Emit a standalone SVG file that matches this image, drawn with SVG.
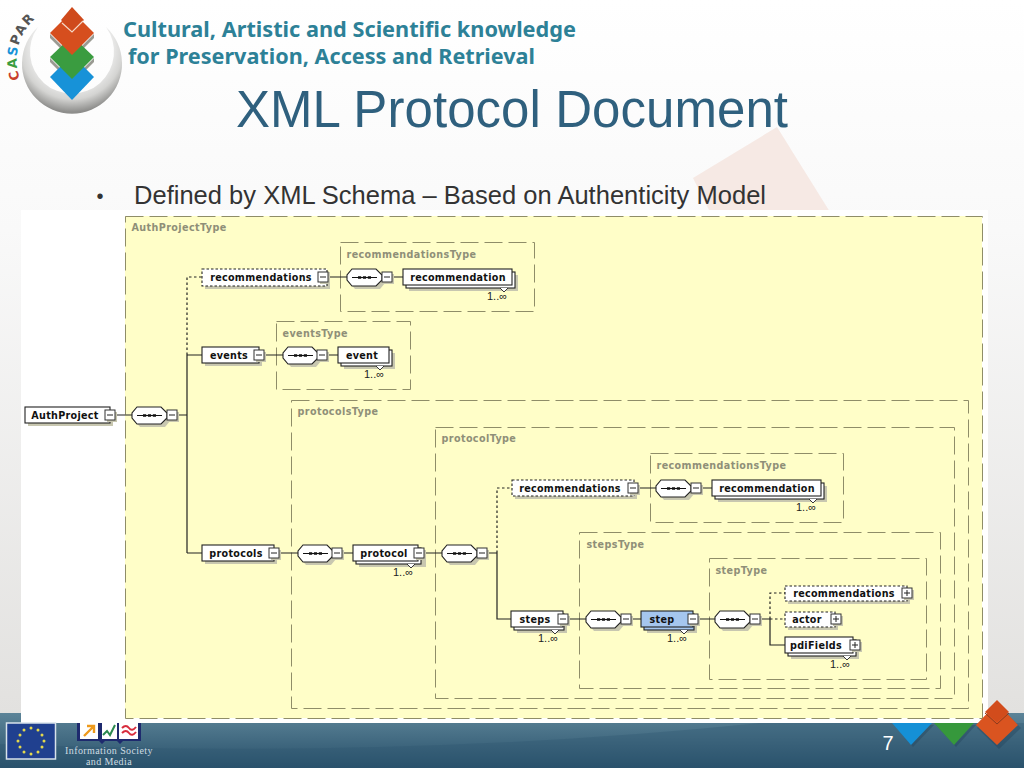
<svg xmlns="http://www.w3.org/2000/svg" width="1024" height="768" viewBox="0 0 1024 768">
<style>
text{font-family:"DejaVu Sans",Verdana,sans-serif}
.n{font-size:9.6px;font-weight:bold;fill:#111;text-anchor:middle;letter-spacing:.3px}
.t{font-size:9.6px;font-weight:bold;fill:#8f8f78;letter-spacing:.4px}
.m{font-size:11px;fill:#222;text-anchor:middle;font-family:"Liberation Sans",Arial,sans-serif}
.dash{fill:none;stroke:#8f8d68;stroke-width:1;stroke-dasharray:18 6}
.c{fill:none;stroke:#222;stroke-width:1.2}
.d{fill:none;stroke:#222;stroke-width:1.2;stroke-dasharray:2.5 2.5}
.sh{fill:#c8c7b0}
.b{fill:#fff;stroke:#222;stroke-width:1.1}
.bd{fill:#fff;stroke:#222;stroke-width:1.1;stroke-dasharray:2.5 2}
.blue{fill:#a5c6ee;stroke:#222;stroke-width:1.1}
.hd{font-family:"Noto Sans","Open Sans",sans-serif;font-weight:bold;fill:#2d8197}
.ls{font-family:"Liberation Sans",Arial,sans-serif}
.sf{font-family:"Liberation Serif",serif;fill:#cfdce2;font-size:10px;letter-spacing:.4px;text-anchor:middle}
</style>
<defs>
<linearGradient id="bg" x1="0" y1="0" x2="0" y2="1"><stop offset="0" stop-color="#fff"/><stop offset="0.3" stop-color="#f9f9f9"/><stop offset="0.93" stop-color="#e2e1df"/></linearGradient>
<linearGradient id="foot" x1="0" y1="0" x2="0" y2="1"><stop offset="0" stop-color="#5c8498"/><stop offset="1" stop-color="#28506a"/></linearGradient>
<radialGradient id="ring" gradientUnits="userSpaceOnUse" cx="72" cy="48" r="64"><stop offset="0.55" stop-color="#f4f4f4"/><stop offset="0.8" stop-color="#d4d4d2"/><stop offset="1" stop-color="#8e8e8c"/></radialGradient>
<g id="seq">
<path class="sh" d="M8,3H33L38,9V14L33,20H8L3,14V9Z"/>
<path class="b" d="M5,0H29L35,6V11L29,17H5L0,11V6Z"/>
<path d="M5,8.5H30" stroke="#111" fill="none"/>
<path d="M11,8.5H24" stroke="#111" stroke-width="2.6" stroke-dasharray="3.2 1.7" fill="none"/>
</g>
<g id="minus">
<rect class="sh" x="-3" y="-3" width="10" height="10"/>
<rect x="-5" y="-5" width="10" height="10" fill="#fff" stroke="#333"/>
<path d="M-3,0H3" stroke="#222" fill="none"/>
</g>
<g id="plus">
<rect class="sh" x="-3" y="-3" width="10" height="10"/>
<rect x="-5" y="-5" width="10" height="10" fill="#fff" stroke="#333"/>
<path d="M-3,0H3M0,-3V3" stroke="#222" fill="none"/>
</g>
<path id="tick" d="M-4,0L0,4L4,0" fill="#fff" stroke="#222" stroke-width="0.9"/>
<path id="arc" d="M20,79A55,55 0 0 1 40,15"/>
</defs>

<g id="background">
<rect width="1024" height="768" fill="url(#bg)"/>
<path d="M777,127L830,212H710L693,178Z" fill="#f6e9e4"/>
<rect x="0" y="713" width="1024" height="55" fill="url(#foot)"/>
<path d="M0,768V744Q400,760 760,723H1024V768Z" fill="#2f566f" opacity="0.35"/>
</g>

<g id="footer-marks">
<path d="M892,723H932L911,745Z" fill="#1f3f55" opacity="0.35" transform="translate(2,2)"/>
<path d="M934,723H974L954,745Z" fill="#1f3f55" opacity="0.35" transform="translate(2,2)"/>
<path d="M892,723H932L911,745Z" fill="#1590d6"/>
<path d="M934,723H974L954,745Z" fill="#36983c"/>
</g>

<rect id="panel" x="21" y="210" width="967" height="513" fill="#fff"/>
<rect id="schema-bg" x="125" y="216" width="857" height="502" fill="#fffec8"/>

<g id="type-boxes" transform="translate(.5,.5)">
<rect class="dash" x="125" y="216" width="857" height="502"/>
<text class="t" x="131" y="230">AuthProjectType</text>
<rect class="dash" x="340" y="242" width="194" height="69"/>
<text class="t" x="346" y="257">recommendationsType</text>
<rect class="dash" x="276" y="321" width="134" height="68"/>
<text class="t" x="282" y="336">eventsType</text>
<rect class="dash" x="291" y="400" width="677" height="308"/>
<text class="t" x="297" y="414">protocolsType</text>
<rect class="dash" x="435" y="427" width="519" height="271"/>
<text class="t" x="441" y="441">protocolType</text>
<rect class="dash" x="650" y="453" width="193" height="69"/>
<text class="t" x="656" y="468">recommendationsType</text>
<rect class="dash" x="579" y="532" width="361" height="156"/>
<text class="t" x="586" y="547">stepsType</text>
<rect class="dash" x="709" y="558" width="217" height="121"/>
<text class="t" x="715" y="573">stepType</text>
</g>

<g id="connectors">
<path class="c" d="M114,415H132M176,415H187M187,355V553M187,355H202M187,553H202"/>
<path class="d" d="M187,355V277H202"/>
<path class="c" d="M327,277H347M390,277H403M263,355H283M326,355H338"/>
<path class="c" d="M278,553H298M341,553H353M423,553H442M486,553H497M497,553V619H511"/>
<path class="d" d="M497,553V488H512"/>
<path class="c" d="M637,488H656M700,488H712M567,619H586M630,619H641M697,619H715M759,619H770M770,619V645H785"/>
<path class="d" d="M770,619V593H785M770,619H785"/>
</g>

<g id="n-authproject">
<rect class="sh" x="28" y="410" width="85" height="16"/><rect class="b" x="25" y="407" width="85" height="16"/>
<text class="n" x="65" y="418.5">AuthProject</text><use href="#minus" x="110" y="415"/>
</g>
<g id="n-seq1"><use href="#seq" x="132" y="407"/><use href="#minus" x="172" y="415"/></g>

<g id="n-recommendations1">
<rect class="sh" x="205" y="272" width="125" height="17"/><rect class="bd" x="202" y="269" width="125" height="17"/>
<text class="n" x="261" y="280.5">recommendations</text><use href="#minus" x="323" y="277"/>
</g>
<g id="n-seq2"><use href="#seq" x="347" y="269"/><use href="#minus" x="387" y="277"/></g>
<g id="n-recommendation1">
<rect class="sh" x="409" y="275" width="109" height="16"/><rect class="b" x="406" y="272" width="109" height="16"/><rect class="b" x="403" y="269" width="109" height="16"/>
<use href="#tick" x="504" y="288"/><text class="n" x="458" y="280.5">recommendation</text><text class="m" x="497" y="300">1..∞</text>
</g>

<g id="n-events">
<rect class="sh" x="205" y="350" width="57" height="16"/><rect class="b" x="202" y="347" width="57" height="16"/>
<text class="n" x="229" y="358.5">events</text><use href="#minus" x="259" y="355"/>
</g>
<g id="n-seq3"><use href="#seq" x="283" y="347"/><use href="#minus" x="322" y="355"/></g>
<g id="n-event">
<rect class="sh" x="344" y="353" width="51" height="16"/><rect class="b" x="341" y="350" width="51" height="16"/><rect class="b" x="338" y="347" width="51" height="16"/>
<use href="#tick" x="380" y="366"/><text class="n" x="362" y="358.5">event</text><text class="m" x="374" y="378">1..∞</text>
</g>

<g id="n-protocols">
<rect class="sh" x="205" y="548" width="72" height="16"/><rect class="b" x="202" y="545" width="72" height="16"/>
<text class="n" x="236" y="556.5">protocols</text><use href="#minus" x="274" y="553"/>
</g>
<g id="n-seq4"><use href="#seq" x="298" y="545"/><use href="#minus" x="337" y="553"/></g>
<g id="n-protocol">
<rect class="sh" x="359" y="551" width="67" height="16"/><rect class="b" x="356" y="548" width="65" height="16"/><rect class="b" x="353" y="545" width="65" height="16"/>
<use href="#tick" x="411" y="564"/><text class="n" x="384" y="556.5">protocol</text><use href="#minus" x="419" y="553"/><text class="m" x="403" y="576">1..∞</text>
</g>
<g id="n-seq5"><use href="#seq" x="442" y="545"/><use href="#minus" x="482" y="553"/></g>

<g id="n-recommendations2">
<rect class="sh" x="515" y="483" width="122" height="16"/><rect class="bd" x="512" y="480" width="122" height="16"/>
<text class="n" x="570" y="491.5">recommendations</text><use href="#minus" x="633" y="488"/>
</g>
<g id="n-seq6"><use href="#seq" x="656" y="480"/><use href="#minus" x="696" y="488"/></g>
<g id="n-recommendation2">
<rect class="sh" x="718" y="486" width="109" height="16"/><rect class="b" x="715" y="483" width="109" height="16"/><rect class="b" x="712" y="480" width="109" height="16"/>
<use href="#tick" x="813" y="499"/><text class="n" x="767" y="491.5">recommendation</text><text class="m" x="806" y="511">1..∞</text>
</g>

<g id="n-steps">
<rect class="sh" x="517" y="617" width="50" height="16"/><rect class="b" x="514" y="614" width="50" height="16"/><rect class="b" x="511" y="611" width="52" height="16"/>
<use href="#tick" x="555" y="630"/><text class="n" x="535" y="622.5">steps</text><use href="#minus" x="563" y="619"/><text class="m" x="548" y="642">1..∞</text>
</g>
<g id="n-seq7"><use href="#seq" x="586" y="611"/><use href="#minus" x="626" y="619"/></g>
<g id="n-step">
<rect class="sh" x="647" y="617" width="50" height="16"/><rect class="blue" x="644" y="614" width="50" height="16"/><rect class="blue" x="641" y="611" width="52" height="16"/>
<use href="#tick" x="684" y="630"/><text class="n" x="662" y="622.5">step</text><use href="#minus" x="693" y="619"/><text class="m" x="677" y="642">1..∞</text>
</g>
<g id="n-seq8"><use href="#seq" x="715" y="611"/><use href="#minus" x="755" y="619"/></g>

<g id="n-recommendations3">
<rect class="sh" x="788" y="589" width="122" height="15"/><rect class="bd" x="785" y="586" width="122" height="15"/>
<text class="n" x="844" y="597">recommendations</text><use href="#plus" x="907" y="593"/>
</g>
<g id="n-actor">
<rect class="sh" x="788" y="615" width="50" height="15"/><rect class="bd" x="785" y="612" width="50" height="15"/>
<text class="n" x="807" y="623">actor</text><use href="#plus" x="836" y="619"/>
</g>
<g id="n-pdifields">
<rect class="sh" x="791" y="643" width="68" height="16"/><rect class="b" x="788" y="640" width="68" height="16"/><rect class="b" x="785" y="637" width="68" height="16"/>
<use href="#tick" x="847" y="656"/><text class="n" x="816" y="649">pdiFields</text><use href="#plus" x="855" y="645"/><text class="m" x="840" y="668">1..∞</text>
</g>

<g id="title">
<text class="ls" x="236" y="127" font-size="51" textLength="552" fill="#2f607e">XML Protocol Document</text>
<text class="ls" x="100" y="203" text-anchor="middle" font-size="20" fill="#333">•</text>
<text class="ls" x="134" y="204" font-size="25.5" textLength="632" fill="#333">Defined by XML Schema – Based on Authenticity Model</text>
</g>

<g id="header">
<text class="hd" x="123" y="37" font-size="22" textLength="453" lengthAdjust="spacingAndGlyphs">Cultural, Artistic and Scientific knowledge</text>
<text class="hd" x="128" y="64" font-size="22" textLength="407" lengthAdjust="spacingAndGlyphs">for Preservation, Access and Retrieval</text>
</g>

<g id="logo">
<path d="M38,27A50,50 0 1 0 106,27A42,42 0 1 1 38,27Z" fill="url(#ring)"/>
<path d="M50,58L72,80L94,58V62L72,84L50,62Z" fill="#9a9a92"/>
<path d="M50,34L72,56L94,34V38L72,60L50,38Z" fill="#9a9a92"/>
<path d="M72,55L94,77L72,100L50,77Z" fill="#1792d8"/>
<path d="M72,36L94,57L72,79L50,57Z" fill="#3a9c40"/>
<path d="M72,11L94,33L72,55L50,33Z" fill="#d64e1e"/>
<path d="M72,7L84,20L72,31L61,20Z" fill="#cf4a1c"/>
<path d="M62,23L72,32L83,21" fill="none" stroke="#f4d9c8" stroke-width="1.2"/>
<text font-size="13" font-weight="bold" letter-spacing="1.6" fill="#555"><textPath href="#arc"><tspan fill="#c9402c">C</tspan><tspan fill="#3a9c40">A</tspan><tspan fill="#1792d8">S</tspan>PAR</textPath></text>
</g>

<g id="footer-logos">
<rect x="6.5" y="723" width="49" height="36" fill="#20408f" stroke="#d8e2ea" stroke-width="1.5"/>
<g fill="#e4d84c"><circle cx="31" cy="728" r="1.5"/><circle cx="38" cy="730" r="1.5"/><circle cx="42" cy="735" r="1.5"/><circle cx="44" cy="741" r="1.5"/><circle cx="42" cy="747" r="1.5"/><circle cx="38" cy="752" r="1.5"/><circle cx="31" cy="754" r="1.5"/><circle cx="24" cy="752" r="1.5"/><circle cx="20" cy="747" r="1.5"/><circle cx="18" cy="741" r="1.5"/><circle cx="20" cy="735" r="1.5"/><circle cx="24" cy="730" r="1.5"/></g>
<path d="M77,723V741H99L102,744L105,741H117L120,744L123,741H141V723Z" fill="#1e2a6e"/>
<rect x="80" y="723" width="18" height="16" fill="#fff"/><rect x="102" y="723" width="15" height="16" fill="#fff"/><rect x="119" y="723" width="19" height="16" fill="#fff"/>
<path d="M84,736L93,727M87,726H94V733" fill="none" stroke="#ee9a1c" stroke-width="2.4"/>
<path d="M103,735L107,731L110,735L115,725" fill="none" stroke="#2c8a50" stroke-width="2"/>
<path d="M122,728Q126,724 129,728T136,727M122,733Q126,729 129,733T136,732" fill="none" stroke="#d82c3c" stroke-width="2"/>
<text class="sf" x="109" y="754">Information Society</text>
<text class="sf" x="109" y="765">and Media</text>
</g>

<g id="footer-right">
<path d="M997,703L1019,725L997,746L975,725Z" fill="#1f3f55" opacity="0.35" transform="translate(2,3)"/>
<path d="M997,703L1018,725L997,745L976,725Z" fill="#da5420"/>
<path d="M997,700L1009,712L997,722L985,712Z" fill="#d24c1c"/>
<path d="M985,713L997,724L1009,713" fill="none" stroke="#8b3a1e" stroke-width="1"/>
<text class="ls" x="888" y="750" text-anchor="middle" font-size="20" fill="#fff">7</text>
</g>
</svg>
